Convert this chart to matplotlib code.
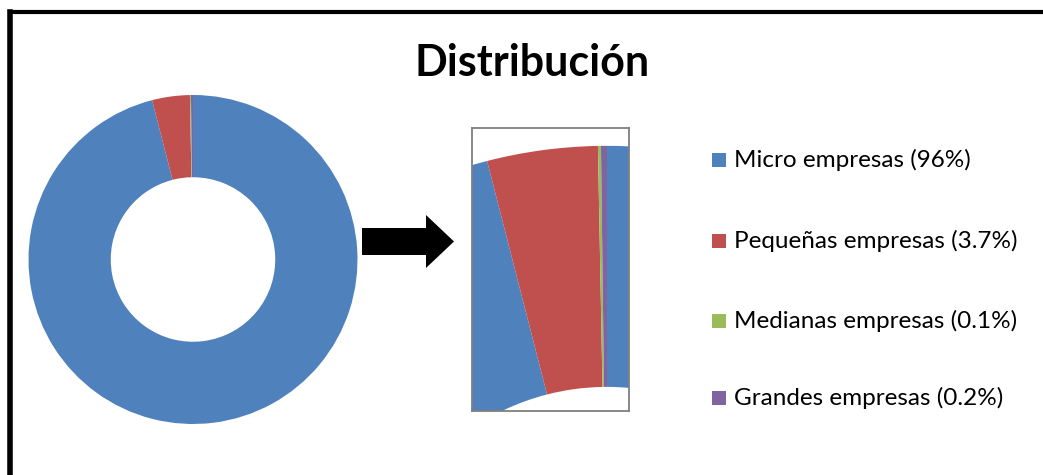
import matplotlib
matplotlib.use("Agg")
import matplotlib.pyplot as plt
from matplotlib.patches import Rectangle, Polygon
from matplotlib.lines import Line2D

plt.rcParams['font.family'] = ['Lato', 'DejaVu Sans']

# data
labels = ['Micro empresas', 'Pequeñas empresas', 'Medianas empresas', 'Grandes empresas']
shares = [96, 3.7, 0.1, 0.2]
share_text = ['96%', '3.7%', '0.1%', '0.2%']
colors = ['#4F81BD', '#C0504D', '#9BBB59', '#8064A2']

W, H = 1043, 475
fig = plt.figure(figsize=(W / 100, H / 100), dpi=100)
fig.patch.set_facecolor('white')


def box(x0, y0, x1, y1):
    # pixel box (top-left origin) -> figure fraction
    return [x0 / W, (H - y1) / H, (x1 - x0) / W, (y1 - y0) / H]


# main donut
cx, cy, r = 193, 259.5, 164.5
lim = 1.05
ax = fig.add_axes(box(cx - lim * r, cy - lim * r, cx + lim * r, cy + lim * r))
ax.pie(shares, colors=colors, startangle=90, counterclock=False,
       wedgeprops=dict(width=0.5, linewidth=0))
ax.set_xlim(-lim, lim)
ax.set_ylim(-lim, lim)
ax.set_aspect('auto')
ax.axis('off')

# zoomed view of the top of the ring
ax2 = fig.add_axes(box(472, 128, 629, 411))
wedges, _ = ax2.pie(shares, colors=colors, startangle=90, counterclock=False,
                    wedgeprops=dict(width=0.5, linewidth=0))
for w in wedges:
    w.set_clip_on(True)
    w.set_clip_path(ax2.patch)
ax2.set_xlim(-0.280, 0.0456)
ax2.set_ylim(0.450, 1.037)
ax2.set_aspect('auto')
ax2.set_frame_on(True)
for s in ax2.spines.values():
    s.set_color('#7f7f7f')
    s.set_linewidth(1.3)
    s.set_zorder(5)
ax2.set_xticks([])
ax2.set_yticks([])

# overlay in pixel coords for frame, arrow, title and legend
ov = fig.add_axes([0, 0, 1, 1], zorder=-1)
ov.set_xlim(0, W)
ov.set_ylim(H, 0)
ov.axis('off')

ov.add_line(Line2D([9.5, 9.5], [11.5, H + 5], color='black', lw=4))
ov.add_line(Line2D([9.5, W + 5], [11.5, 11.5], color='black', lw=3))

ov.add_patch(Polygon([(362, 228), (426, 228), (426, 215), (454, 241.5),
                      (426, 268), (426, 255), (362, 255)],
                     closed=True, facecolor='black', edgecolor='none'))

ov.text(532, 63, 'Distribución', ha='center', va='center',
        fontsize=31, fontweight='bold', color='black')

rows = [160, 241, 321, 398]
for y, lab, pct, c in zip(rows, labels, share_text, colors):
    ov.add_patch(Rectangle((712, y - 7), 14, 14, facecolor=c, edgecolor='none'))
    ov.text(734, y, f'{lab} ({pct})', ha='left', va='center',
            fontsize=17.5, color='black')

fig.savefig('out.png', dpi=100, facecolor='white')
